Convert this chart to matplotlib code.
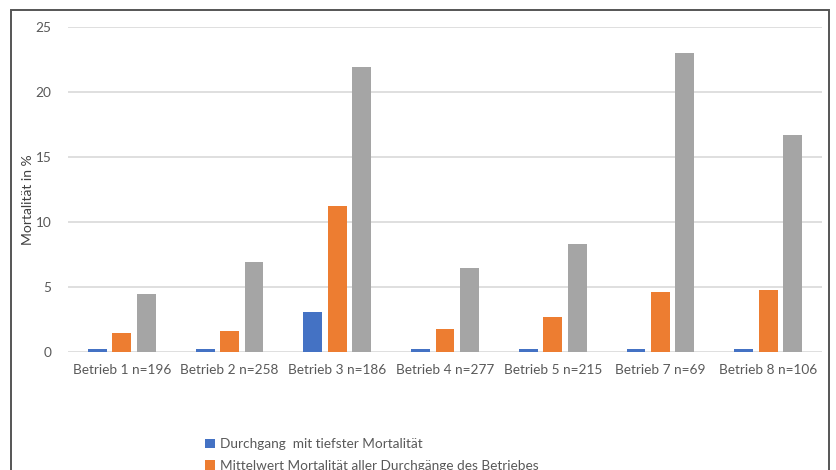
import matplotlib
matplotlib.use("Agg")
import matplotlib.pyplot as plt
import numpy as np
from matplotlib.patches import Patch, Rectangle

plt.rcParams["font.family"] = ["Lato", "DejaVu Sans"]

betriebe = ["Betrieb 1 n=196", "Betrieb 2 n=258", "Betrieb 3 n=186", "Betrieb 4 n=277",
            "Betrieb 5 n=215", "Betrieb 7 n=69", "Betrieb 8 n=106"]
tiefste = [0.2, 0.2, 3.1, 0.2, 0.2, 0.2, 0.2]
mittelwert = [1.5, 1.6, 11.2, 1.8, 2.7, 4.6, 4.8]
hoechste = [4.5, 6.9, 21.9, 6.5, 8.3, 23.0, 16.7]
serien = ["Durchgang  mit tiefster Mortalität",
          "Mittelwert Mortalität aller Durchgänge des Betriebes",
          "Durchgang mit höchster Mortalität"]
farben = ["#4472C4", "#ED7D31", "#A5A5A5"]
yticks = [0, 5, 10, 15, 20, 25]

text_color = "#595959"
fig = plt.figure(figsize=(8.36, 4.70), dpi=100)
ax = fig.add_axes([68 / 836, 1 - 352 / 470, 754 / 836, 325 / 470])

x = np.arange(len(betriebe))
width = 0.175
step = 0.227
for i, (werte, farbe) in enumerate(zip([tiefste, mittelwert, hoechste], farben)):
    ax.bar(x + (i - 1) * step, werte, width=width, color=farbe, zorder=3)

ax.set_xlim(-0.5, len(betriebe) - 0.5)
ax.set_ylim(0, 25)
ax.set_yticks(yticks)
ax.set_xticks(x)
ax.set_xticklabels(betriebe)
ax.tick_params(axis="both", length=0, labelsize=9.8, colors=text_color)
ax.tick_params(axis="y", pad=12)
ax.tick_params(axis="x", pad=9)
ax.grid(axis="y", color="#D9D9D9", linewidth=1.2, zorder=0)
for spine in ax.spines.values():
    spine.set_visible(False)
fig.text(28 / 836, 1 - 200 / 470, "Mortalität in %", rotation=90, ha="center",
         va="center", fontsize=10, color="#404040")

# chart frame, running off the bottom edge
fig.patches.append(Rectangle((11 / 836, -0.2), 818 / 836, 1.2 - 10 / 470,
                             transform=fig.transFigure, fill=False,
                             edgecolor="#555555", linewidth=1.4))

handles = [Patch(facecolor=f, edgecolor="none") for f in farben]
fig.legend(handles, serien, loc="upper left", bbox_to_anchor=(200 / 836, 1 - 433 / 470),
           frameon=False, fontsize=9.8, labelcolor=text_color, handlelength=0.7,
           handleheight=0.7, handletextpad=0.4, labelspacing=0.7, borderaxespad=0)

fig.savefig("out.png", dpi=100)
